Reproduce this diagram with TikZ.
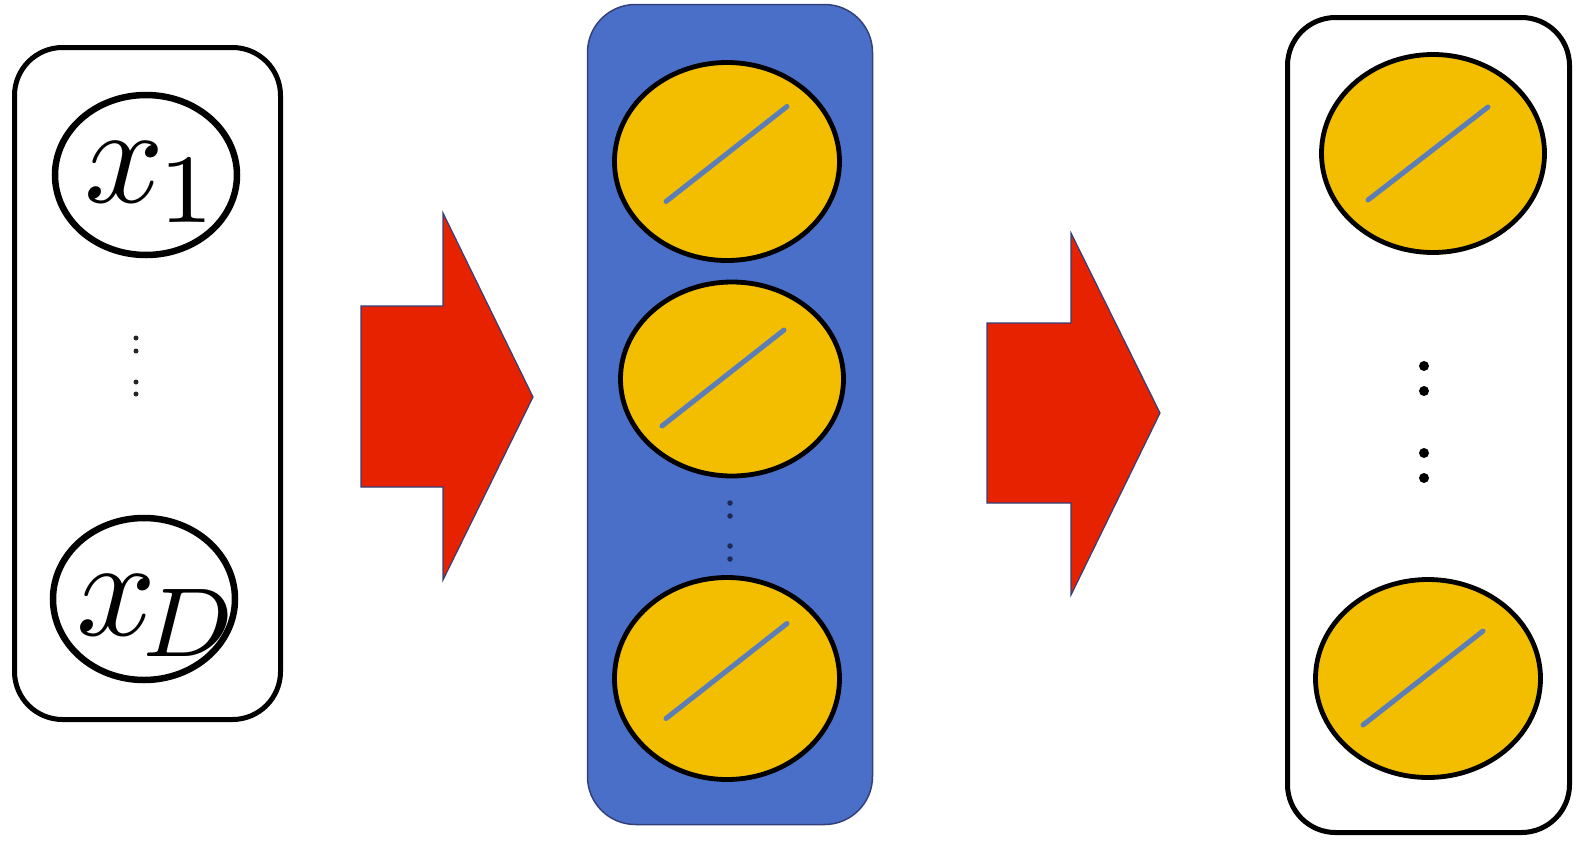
\documentclass[tikz,border=0pt]{standalone}
\usetikzlibrary{shapes.geometric}
\definecolor{boxblue}{HTML}{4A6FC8}
\definecolor{unityel}{HTML}{F3BE00}
\definecolor{slashc}{HTML}{5B7DB8}
\definecolor{arrred}{HTML}{E62200}
\definecolor{arredge}{HTML}{34407A}
\definecolor{navy}{HTML}{1E2A55}
\tikzset{
  outerbox/.style={draw=black, line width=5pt, rounded corners=48pt, fill=white, inner sep=0pt},
  layerbox/.style={draw=arredge, line width=1.5pt, rounded corners=48pt, fill=boxblue, inner sep=0pt},
  inpell/.style={ellipse, draw=black, line width=6.5pt, inner sep=0pt},
  unit/.style={ellipse, draw=black, line width=4.8pt, fill=unityel, inner sep=0pt},
  slash/.style={draw=slashc, line width=5pt, line cap=round},
  bigarrow/.style={fill=arrred, draw=arredge, line width=1.2pt, line join=miter},
  dotL/.style={circle, fill=black!85, inner sep=0pt, minimum size=5pt},
  dotB/.style={circle, fill=navy, inner sep=0pt, minimum size=5.5pt},
  dotR/.style={circle, fill=black, inner sep=0pt, minimum size=10pt},
  mathlbl/.style={scale=14, inner sep=0pt}
}
\begin{document}
\begin{tikzpicture}[x=1pt,y=-1pt]
\useasboundingbox (0,0) rectangle (1583,852);
% left input box
\node[outerbox, minimum width=266pt, minimum height=672pt] (inbox) at (147.5,383.5) {};
\node[inpell, minimum width=182pt, minimum height=160pt] (e1) at (146,175) {};
\node[inpell, minimum width=182pt, minimum height=162pt] (eD) at (144,599) {};
\node[mathlbl, anchor=base] (t1) at (153,202) {$x_{\mkern-1mu 1}$};
\node[mathlbl, anchor=base] (tD) at (159,635) {$x_{\mkern-2.5mu D}$};
\node[dotL] (ld1) at (136,338) {};
\node[dotL] (ld2) at (136,351) {};
\node[dotL] (ld3) at (136,382) {};
\node[dotL] (ld4) at (136,394) {};
% arrow 1
\draw[bigarrow] (361,306) -- (443,306) -- (443,213) -- (533,397) -- (443,580) -- (443,487) -- (361,487) -- cycle;
% hidden layer box
\node[layerbox, minimum width=285pt, minimum height=820pt] (hbox) at (730,414.5) {};
\node[unit, minimum width=225pt, minimum height=198pt] (c1) at (727,161.5) {};
\node[unit, minimum width=223pt, minimum height=194pt] (c2) at (732,379) {};
\node[unit, minimum width=225pt, minimum height=202pt] (c3) at (727,678.5) {};
\draw[slash] ([shift={(-61,40)}]c1.center) -- ([shift={(60,-55)}]c1.center);
\draw[slash] ([shift={(-70,47)}]c2.center) -- ([shift={(52,-49)}]c2.center);
\draw[slash] ([shift={(-61,40)}]c3.center) -- ([shift={(60,-55)}]c3.center);
\node[dotB] (bd1) at (730,503) {};
\node[dotB] (bd2) at (730,516) {};
\node[dotB] (bd3) at (730,546) {};
\node[dotB] (bd4) at (730,559) {};
% arrow 2
\draw[bigarrow] (987,323) -- (1071,323) -- (1071,233) -- (1160,413) -- (1071,595) -- (1071,503) -- (987,503) -- cycle;
% output box
\node[outerbox, minimum width=282pt, minimum height=815pt] (obox) at (1428.5,425) {};
\node[unit, minimum width=223pt, minimum height=198pt] (r1) at (1433,153.5) {};
\node[unit, minimum width=225pt, minimum height=198pt] (r2) at (1428,678.5) {};
\draw[slash] ([shift={(-65,46.5)}]r1.center) -- ([shift={(55,-46.5)}]r1.center);
\draw[slash] ([shift={(-65,46.5)}]r2.center) -- ([shift={(55,-47.5)}]r2.center);
\node[dotR] (rd1) at (1424,366) {};
\node[dotR] (rd2) at (1424,391) {};
\node[dotR] (rd3) at (1424,453) {};
\node[dotR] (rd4) at (1424,478) {};
\end{tikzpicture}
\end{document}
